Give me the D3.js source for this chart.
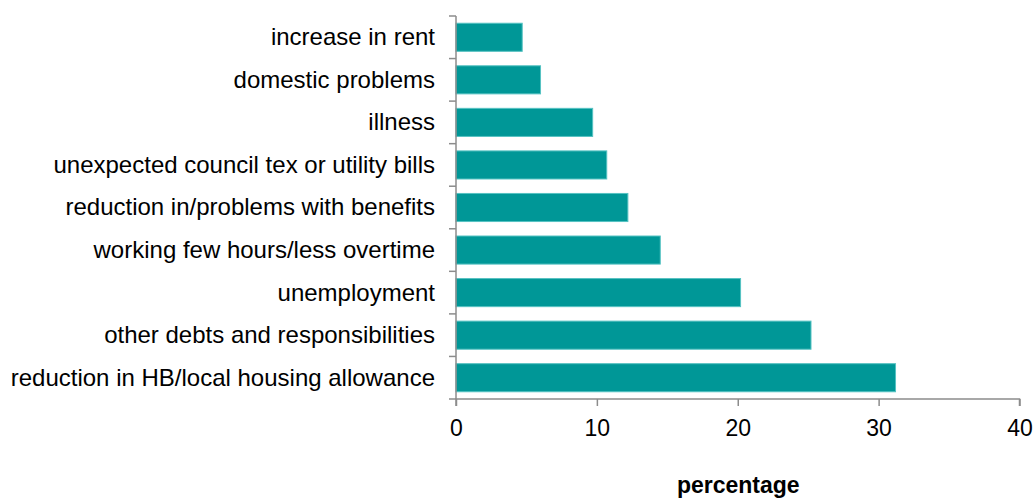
<!DOCTYPE html>
<html>
<head>
<meta charset="utf-8">
<script src="https://cdn.jsdelivr.net/npm/d3@7"></script>
<style>
  body { margin: 0; background: #fff; }
  text { font-family: "Liberation Sans", Arial, sans-serif; fill: #000; }
</style>
</head>
<body>
<div id="chart"></div>
<script>
// data, top to bottom
var categories = [
  "increase in rent",
  "domestic problems",
  "illness",
  "unexpected council tex or utility bills",
  "reduction in/problems with benefits",
  "working few hours/less overtime",
  "unemployment",
  "other debts and responsibilities",
  "reduction in HB/local housing allowance"
];
var values = [4.7, 6.0, 9.7, 10.7, 12.2, 14.5, 20.2, 25.2, 31.2];
var xTicks = [0, 10, 20, 30, 40];
var xTitle = "percentage";

var width = 1035, height = 498;
var plotLeft = 456, plotRight = 1019.5, plotTop = 16, plotBottom = 399;

var data = categories.map(function(c, i) { return { name: c, value: values[i] }; });

var svg = d3.select("#chart").append("svg")
            .attr("width", width)
            .attr("height", height);

var xScale = d3.scaleLinear().domain([0, 40]).range([plotLeft, plotRight]);
var yScale = d3.scaleBand().domain(categories).range([plotTop, plotBottom])
               .paddingInner(0.34).paddingOuter(0.17);

// bars
svg.append("g").selectAll("rect")
   .data(data)
   .enter().append("rect")
   .attr("x", xScale(0))
   .attr("y", function(d) { return yScale(d.name); })
   .attr("width", function(d) { return xScale(d.value) - xScale(0); })
   .attr("height", yScale.bandwidth())
   .attr("fill", "#009797")
   .attr("stroke", "#55c2c2")
   .attr("stroke-width", 1);

// y axis: line plus ticks at band edges
var yAxis = svg.append("g");
yAxis.append("line")
     .attr("x1", plotLeft).attr("x2", plotLeft)
     .attr("y1", plotTop).attr("y2", plotBottom)
     .attr("stroke", "#8c8c8c").attr("stroke-width", 1.5);
var step = (plotBottom - plotTop) / categories.length;
yAxis.selectAll(".tk")
     .data(d3.range(categories.length + 1))
     .enter().append("line")
     .attr("x1", plotLeft - 7).attr("x2", plotLeft)
     .attr("y1", function(i) { return plotTop + i * step; })
     .attr("y2", function(i) { return plotTop + i * step; })
     .attr("stroke", "#8c8c8c").attr("stroke-width", 1.5);
yAxis.selectAll(".lbl")
     .data(categories)
     .enter().append("text")
     .attr("x", plotLeft - 21)
     .attr("y", function(d) { return yScale(d) + yScale.bandwidth() / 2; })
     .attr("dy", "0.33em")
     .attr("text-anchor", "end")
     .style("font-size", "24px")
     .text(function(d) { return d; });

// x axis
var x_axis = d3.axisBottom(xScale).tickValues(xTicks).tickSize(7).tickPadding(14);
var xg = svg.append("g")
            .attr("transform", "translate(0," + plotBottom + ")")
            .call(x_axis);
xg.select(".domain").attr("stroke", "#8c8c8c").attr("stroke-width", 1.5)
  .attr("d", "M" + plotLeft + ",7V0H" + plotRight + "V7");
xg.selectAll(".tick line").attr("stroke", "#8c8c8c").attr("stroke-width", 1.5);
xg.selectAll(".tick text")
  .style("font-size", "23px")
  .style("font-family", "'Liberation Sans', Arial, sans-serif")
  .attr("fill", "#000");

svg.append("text")
   .attr("x", (xScale(20) + 0.5))
   .attr("y", 492.5)
   .attr("text-anchor", "middle")
   .style("font-size", "23px")
   .style("font-weight", "bold")
   .text(xTitle);
</script>
</body>
</html>
